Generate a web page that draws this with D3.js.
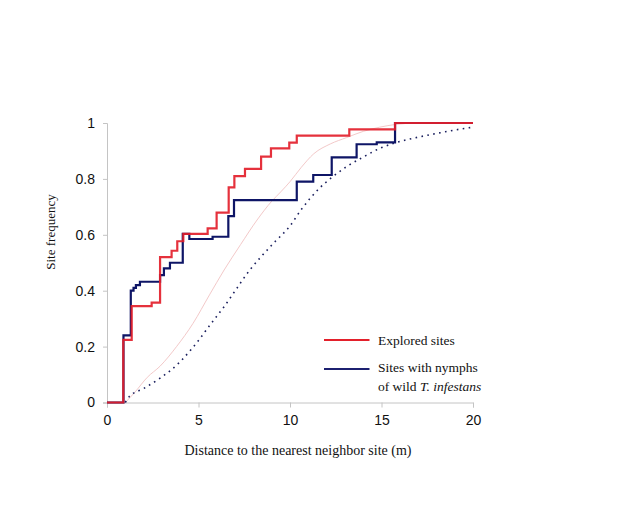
<!DOCTYPE html>
<html>
<head>
<meta charset="utf-8">
<script src="https://cdn.jsdelivr.net/npm/d3@7"></script>
<style>
  html, body { margin: 0; padding: 0; background: #ffffff; }
  svg { display: block; }
</style>
</head>
<body>
<svg id="chart" width="636" height="505"></svg>
<script>
// ---- data ----
const xTicks = [0, 5, 10, 15, 20];
const yTicks = [0, 0.2, 0.4, 0.6, 0.8, 1];
const yTickLabels = ["0", "0.2", "0.4", "0.6", "0.8", "1"];

// Explored sites (step function: distance, cumulative frequency)
const exploredDist = [0, 0.89, 1.35, 2.44, 2.9, 3.53, 3.84, 4.17, 5.5, 5.99, 6.65, 6.96, 7.54, 8.42, 8.96, 9.96, 10.37, 13.24, 15.74, 20];
const exploredFreq = [0, 0.224, 0.345, 0.357, 0.52, 0.543, 0.577, 0.603, 0.623, 0.679, 0.77, 0.81, 0.836, 0.88, 0.909, 0.93, 0.955, 0.977, 1, 1];

// Sites with nymphs of wild T. infestans
const nymphDist = [0, 0.9, 1.3, 1.45, 1.58, 1.8, 2.9, 3.11, 3.44, 4.14, 4.5, 5.77, 6.63, 6.94, 10.37, 11.27, 12.28, 13.64, 14.74, 15.74, 20];
const nymphFreq = [0, 0.24, 0.40, 0.41, 0.42, 0.432, 0.456, 0.48, 0.5, 0.603, 0.585, 0.593, 0.667, 0.724, 0.79, 0.814, 0.877, 0.924, 0.931, 1, 1];

// Expected curve for explored sites (thin pink)
const expExploredDist = [1.0, 1.5, 2.2, 2.9, 3.8, 4.7, 5.6, 6.4, 7.3, 8.2, 9.0, 9.5, 10.0, 10.6, 11.3, 12.2, 13.1, 14.0, 14.9, 15.8, 17, 18.5, 20];
const expExploredFreq = [0, 0.035, 0.09, 0.13, 0.2, 0.283, 0.385, 0.474, 0.565, 0.653, 0.72, 0.754, 0.79, 0.84, 0.89, 0.925, 0.948, 0.97, 0.985, 0.995, 1, 1, 1];

// Expected curve for sites with nymphs (dotted navy)
const expNymphDist = [1.0, 1.2, 2.0, 2.9, 4.0, 4.6, 5.0, 5.6, 6.4, 7.1, 7.8, 8.4, 9.1, 10.0, 10.6, 11.6, 12.3, 13.1, 14.0, 14.9, 15.8, 16.7, 17.5, 18.2, 19.1, 20];
const expNymphFreq = [0, 0.02, 0.05, 0.087, 0.146, 0.19, 0.222, 0.275, 0.343, 0.409, 0.474, 0.52, 0.57, 0.632, 0.689, 0.766, 0.806, 0.844, 0.878, 0.909, 0.93, 0.945, 0.956, 0.965, 0.976, 0.985];

const legendLabels = ["Explored sites", "Sites with nymphs", "of wild ", "T. infestans"];
const xTitle = "Distance to the nearest neighbor site (m)";
const yTitle = "Site frequency";

// ---- drawing ----
const svg = d3.select("#chart");
const x = d3.scaleLinear().domain([0, 20]).range([107, 473]);
const y = d3.scaleLinear().domain([0, 1]).range([402.5, 123]);

const axisColor = "#c4c4c4";
const serif = "Liberation Serif, Times New Roman, serif";
const sans = "Liberation Sans, Arial, sans-serif";

// x axis
const gx = svg.append("g").attr("transform", `translate(0,${y(0)})`)
  .call(d3.axisBottom(x).tickValues(xTicks).tickSize(5).tickPadding(8).tickFormat(d3.format("d")));
gx.select(".domain").attr("stroke", axisColor);
gx.selectAll(".tick line").attr("stroke", axisColor);
gx.selectAll(".tick text").attr("font-family", sans).attr("font-size", 14).attr("fill", "#111");

// y axis
const gy = svg.append("g").attr("transform", `translate(${x(0)},0)`)
  .call(d3.axisLeft(y).tickValues(yTicks).tickSize(4).tickPadding(8).tickFormat((d, i) => yTickLabels[i]));
gy.select(".domain").attr("stroke", axisColor);
gy.selectAll(".tick line").attr("stroke", axisColor);
gy.selectAll(".tick text").attr("font-family", sans).attr("font-size", 14).attr("fill", "#111");

// titles
svg.append("text").attr("x", 298).attr("y", 454.5)
  .attr("text-anchor", "middle").attr("font-family", serif)
  .attr("font-size", 14).attr("fill", "#111").text(xTitle);
svg.append("text").attr("transform", `translate(55,232) rotate(-90)`)
  .attr("text-anchor", "middle").attr("font-family", serif)
  .attr("font-size", 13).attr("fill", "#111").text(yTitle);

const smooth = d3.line().x(d => x(d[0])).y(d => y(d[1])).curve(d3.curveMonotoneX);
const step = d3.line().x(d => x(d[0])).y(d => y(d[1])).curve(d3.curveStepAfter);

// expected curves
svg.append("path").datum(expExploredDist.map((d, i) => [d, expExploredFreq[i]]))
  .attr("d", smooth).attr("fill", "none").attr("stroke", "#f3c9c9").attr("stroke-width", 1);
svg.append("path").datum(expNymphDist.map((d, i) => [d, expNymphFreq[i]]))
  .attr("d", smooth).attr("fill", "none").attr("stroke", "#1a1f5e").attr("stroke-width", 1.6)
  .attr("stroke-dasharray", "1.6,4.4");

// empirical step curves
svg.append("path").datum(nymphDist.map((d, i) => [d, nymphFreq[i]]))
  .attr("d", step).attr("fill", "none").attr("stroke", "#0e1566").attr("stroke-width", 2.2);
svg.append("path").datum(exploredDist.map((d, i) => [d, exploredFreq[i]]))
  .attr("d", step).attr("fill", "none").attr("stroke", "#e3202b").attr("stroke-width", 2.2)
  .attr("stroke-opacity", 0.92);

// legend
const leg = svg.append("g");
leg.append("line").attr("x1", 324).attr("x2", 369.5).attr("y1", 340).attr("y2", 340)
  .attr("stroke", "#e3202b").attr("stroke-width", 2.2);
leg.append("text").attr("x", 378).attr("y", 344.5).attr("font-family", serif)
  .attr("font-size", 13.5).attr("fill", "#111").text(legendLabels[0]);
leg.append("line").attr("x1", 324).attr("x2", 369.5).attr("y1", 369).attr("y2", 369)
  .attr("stroke", "#1c2070").attr("stroke-width", 2.2);
leg.append("text").attr("x", 378).attr("y", 372).attr("font-family", serif)
  .attr("font-size", 13.5).attr("fill", "#111").text(legendLabels[1]);
const t2 = leg.append("text").attr("x", 378).attr("y", 390.5).attr("font-family", serif)
  .attr("font-size", 13.5).attr("fill", "#111");
t2.append("tspan").text(legendLabels[2]);
t2.append("tspan").attr("font-style", "italic").text(legendLabels[3]);
</script>
</body>
</html>
